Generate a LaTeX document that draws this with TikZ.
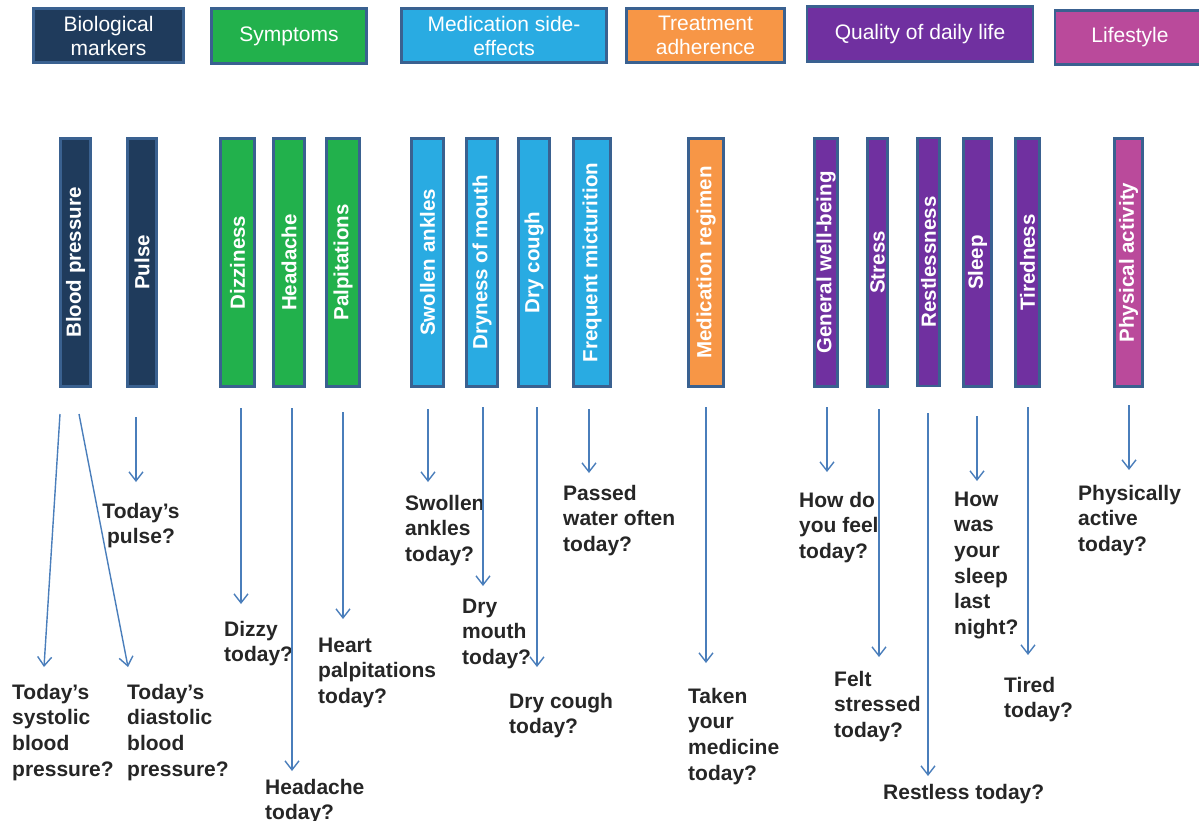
\documentclass[tikz,border=0pt]{standalone}
\usepackage{fontspec}
\setmainfont{Liberation Sans}
\usetikzlibrary{arrows.meta}
\definecolor{navy}{HTML}{1F3B5C}
\definecolor{edgeblue}{HTML}{3A6190}
\definecolor{sgreen}{HTML}{22B14C}
\definecolor{sblue}{HTML}{29ABE2}
\definecolor{sorange}{HTML}{F79646}
\definecolor{spurple}{HTML}{7030A0}
\definecolor{smagenta}{HTML}{BA4A9B}
\definecolor{arrowblue}{HTML}{4A7EBB}
\definecolor{qtext}{HTML}{262626}
\begin{document}
\begin{tikzpicture}[x=1pt,y=-1pt,
 header/.style={draw=edgeblue, line width=2.8pt, text=white, font=\fontsize{21}{24}\selectfont, align=center, inner sep=0pt},
 bar/.style={draw=edgeblue, line width=2.7pt, text=white, font=\bfseries\fontsize{20.5}{24}\selectfont, minimum height=248pt, inner sep=0pt},
 question/.style={text=qtext, font=\bfseries\fontsize{21}{25.7}\selectfont, align=left, inner sep=0pt, anchor=base west},
 arr/.style={draw=arrowblue, line width=1.4pt, -{Straight Barb[length=9pt,width=14pt]}}
]
\useasboundingbox (0,0) rectangle (1199,820);

% headers
\node[header, fill=navy, minimum width=150pt, minimum height=54pt] (hbio) at (108.5,35.5) {Biological\\markers};
\node[header, fill=sgreen, minimum width=155pt, minimum height=55pt] (hsym) at (289,36) {Symptoms};
\node[header, fill=sblue, minimum width=205pt, minimum height=54pt] (hmed) at (504,35.5) {Medication side-\\effects};
\node[header, fill=sorange, minimum width=158pt, minimum height=54pt] (htrt) at (705.5,35.5) {Treatment\\adherence};
\node[header, fill=spurple, minimum width=226pt, minimum height=55pt] (hqol) at (920,34) {Quality of daily life};
\node[header, fill=smagenta, minimum width=150pt, minimum height=54pt] (hlif) at (1130,37.5) {Lifestyle};

% bars
\node[bar, fill=navy, minimum width=30pt] (bp) at (75.5,262.5) {\rotatebox{90}{Blood pressure}};
\node[bar, fill=navy, minimum width=29pt] (pulse) at (142,262.5) {\rotatebox{90}{Pulse}};
\node[bar, fill=sgreen, minimum width=34pt] (diz) at (237.5,262.5) {\rotatebox{90}{Dizziness}};
\node[bar, fill=sgreen, minimum width=31pt] (head) at (289,262.5) {\rotatebox{90}{Headache}};
\node[bar, fill=sgreen, minimum width=33pt] (palp) at (343,262.5) {\rotatebox{90}{Palpitations}};
\node[bar, fill=sblue, minimum width=32pt] (swol) at (427.5,262.5) {\rotatebox{90}{Swollen ankles}};
\node[bar, fill=sblue, minimum width=31pt] (dryn) at (482,262.5) {\rotatebox{90}{Dryness of mouth}};
\node[bar, fill=sblue, minimum width=31pt] (dcough) at (534,262.5) {\rotatebox{90}{Dry cough}};
\node[bar, fill=sblue, minimum width=37pt] (freq) at (592,262.5) {\rotatebox{90}{Frequent micturition}};
\node[bar, fill=sorange, minimum width=35pt] (medreg) at (706,262.5) {\rotatebox{90}{Medication regimen}};
\node[bar, fill=spurple, minimum width=23pt] (gen) at (826,262.5) {\rotatebox{90}{General well-being}};
\node[bar, fill=spurple, minimum width=20pt] (stress) at (877.5,262.5) {\rotatebox{90}{Stress}};
\node[bar, fill=spurple, minimum width=22pt] (restl) at (928.5,262) {\rotatebox{90}{Restlessness}};
\node[bar, fill=spurple, minimum width=28pt] (sleep) at (977.5,262.5) {\rotatebox{90}{Sleep}};
\node[bar, fill=spurple, minimum width=24pt] (tired) at (1027.5,262.5) {\rotatebox{90}{Tiredness}};
\node[bar, fill=smagenta, minimum width=28pt] (phys) at (1128.5,262.5) {\rotatebox{90}{Physical activity}};

% questions (base anchor = baseline of the last line)
\node[question, align=center, anchor=base] (qpulse) at (141,543.7) {Today’s\\pulse?};
\node[question] (qsys) at (12,776.1) {Today’s\\systolic\\blood\\pressure?};
\node[question] (qdia) at (127,776.1) {Today’s\\diastolic\\blood\\pressure?};
\node[question] (qdiz) at (224,661.7) {Dizzy\\today?};
\node[question] (qhead) at (265,819.7) {Headache\\today?};
\node[question] (qpalp) at (318,703.4) {Heart\\palpitations\\today?};
\node[question] (qswol) at (405,561.4) {Swollen\\ankles\\today?};
\node[question] (qdry) at (462,664.4) {Dry\\mouth\\today?};
\node[question] (qcough) at (509,733.7) {Dry cough\\today?};
\node[question] (qpass) at (563,551.4) {Passed\\water often\\today?};
\node[question] (qmed) at (688,780.1) {Taken\\your\\medicine\\today?};
\node[question] (qfeel) at (799,558.4) {How do\\you feel\\today?};
\node[question] (qstress) at (834,737.4) {Felt\\stressed\\today?};
\node[question] (qrest) at (883,799) {Restless today?};
\node[question] (qsleep) at (954,634.5) {How\\was\\your\\sleep\\last\\night?};
\node[question] (qtired) at (1004,717.7) {Tired\\today?};
\node[question] (qphys) at (1078,551.4) {Physically\\active\\today?};

% connector ends
\coordinate (s1) at (60,414);   \coordinate (e1) at (44,667);
\coordinate (s2) at (79,414);   \coordinate (e2) at (128,667);
\coordinate (s3) at (136,417);  \coordinate (e3) at (136,482);
\coordinate (s4) at (241,408);  \coordinate (e4) at (241,604);
\coordinate (s5) at (292,408);  \coordinate (e5) at (292,771);
\coordinate (s6) at (343,412);  \coordinate (e6) at (343,619);
\coordinate (s7) at (428,409);  \coordinate (e7) at (428,482);
\coordinate (s8) at (483,407);  \coordinate (e8) at (483,586);
\coordinate (s9) at (537,407);  \coordinate (e9) at (537,667);
\coordinate (s10) at (589,409); \coordinate (e10) at (589,473);
\coordinate (s11) at (706,407); \coordinate (e11) at (706,663);
\coordinate (s12) at (827,407); \coordinate (e12) at (827,472);
\coordinate (s13) at (879,409); \coordinate (e13) at (879,657);
\coordinate (s14) at (928,413); \coordinate (e14) at (928,776);
\coordinate (s15) at (977,416); \coordinate (e15) at (977,481);
\coordinate (s16) at (1028,407);\coordinate (e16) at (1028,655);
\coordinate (s17) at (1129,405);\coordinate (e17) at (1129,470);

\foreach \i in {1,...,17} { \draw[arr] (s\i) -- (e\i); }
\end{tikzpicture}
\end{document}
